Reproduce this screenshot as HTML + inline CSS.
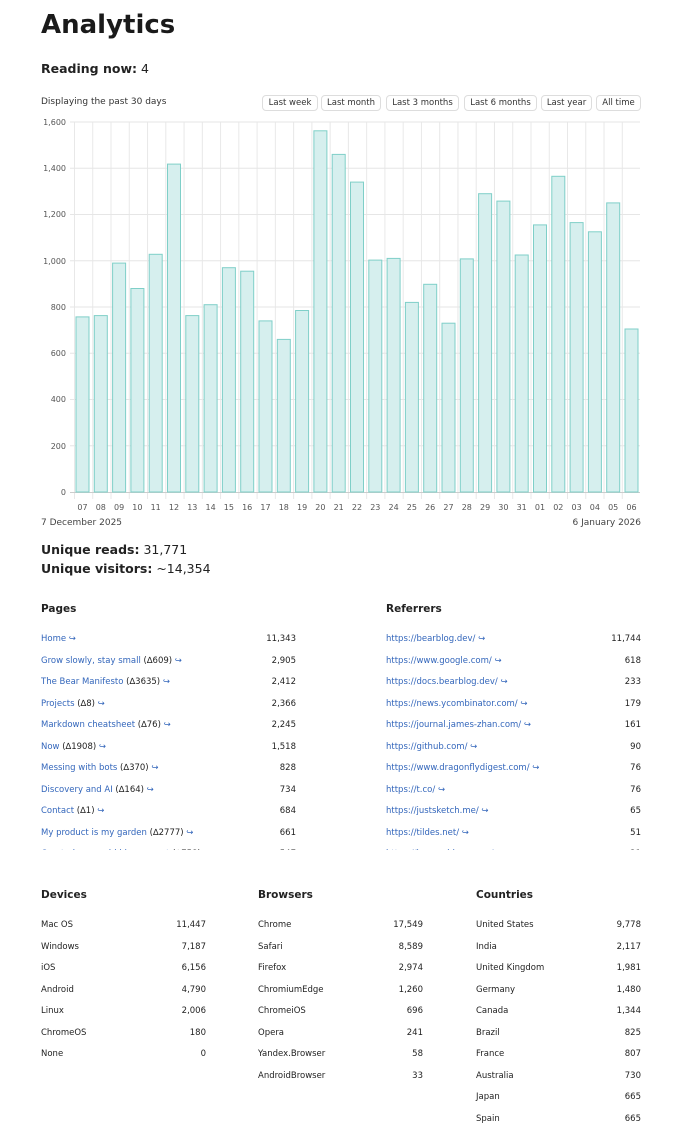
<!DOCTYPE html>
<html><head><meta charset="utf-8"><style>
*{margin:0;padding:0;box-sizing:border-box}
body{width:688px;height:1130px;background:#fff;position:relative;font-family:"DejaVu Sans","Liberation Sans",sans-serif;color:#222;overflow:hidden}
.a{position:absolute;white-space:nowrap}
h1{position:absolute;left:41px;top:10px;font-size:26px;font-weight:bold;color:#1a1a1a}
.s{font-size:12.5px}
.b{font-size:8.5px;color:#333;border:1px solid #ddd;border-radius:4px;height:16px;line-height:14px;text-align:center;top:95px}
.h{font-size:10.5px;font-weight:bold}
.r{font-size:8.5px;height:21.5px;line-height:21.5px}
.l{color:#3366bb}
.n{text-align:right}
</style></head><body>
<h1>Analytics</h1>
<div class="a s" style="left:41px;top:61px"><b>Reading now:</b> 4</div>
<div class="a" style="left:41px;top:97px;font-size:9px;color:#333">Displaying the past 30 days</div>
<div class="a b" style="left:262px;width:56px">Last week</div>
<div class="a b" style="left:321px;width:60px">Last month</div>
<div class="a b" style="left:386px;width:73px">Last 3 months</div>
<div class="a b" style="left:464px;width:73px">Last 6 months</div>
<div class="a b" style="left:541px;width:51px">Last year</div>
<div class="a b" style="left:596px;width:45px">All time</div>
<svg class="a" style="left:0;top:0" width="688" height="530" font-family="DejaVu Sans,sans-serif">
<defs><pattern id="p" x="74" y="0" width="18.26" height="10" patternUnits="userSpaceOnUse"><line x1="0.5" y1="0" x2="0.5" y2="10" stroke="#e8e8e8" stroke-width="1"/></pattern></defs>
<rect x="74" y="122" width="566" height="377" fill="url(#p)"/>
<g stroke="#e6e6e6" stroke-width="1">
<line x1="70" x2="640" y1="122" y2="122"/><line x1="70" x2="640" y1="168.25" y2="168.25"/><line x1="70" x2="640" y1="214.5" y2="214.5"/><line x1="70" x2="640" y1="260.75" y2="260.75"/><line x1="70" x2="640" y1="307" y2="307"/><line x1="70" x2="640" y1="353.25" y2="353.25"/><line x1="70" x2="640" y1="399.5" y2="399.5"/><line x1="70" x2="640" y1="445.75" y2="445.75"/>
</g>
<line x1="70" x2="640" y1="492.5" y2="492.5" stroke="#ccc"/>
<g font-size="8" fill="#555" text-anchor="end">
<text x="66" y="125">1,600</text><text x="66" y="171">1,400</text><text x="66" y="217">1,200</text><text x="66" y="264">1,000</text><text x="66" y="310">800</text><text x="66" y="356">600</text><text x="66" y="402">400</text><text x="66" y="449">200</text><text x="66" y="495">0</text>
</g>
<g fill="#d6efee" stroke="#7fcfc8" stroke-width="1">
<rect x="76" y="316.9" width="13" height="175.1"/><rect x="94.3" y="315.6" width="13" height="176.4"/><rect x="112.6" y="263.1" width="13" height="228.9"/><rect x="130.9" y="288.5" width="13" height="203.5"/><rect x="149.2" y="254.3" width="13" height="237.7"/><rect x="167.5" y="164.1" width="13" height="327.9"/><rect x="185.8" y="315.6" width="13" height="176.4"/><rect x="204.1" y="304.7" width="13" height="187.3"/><rect x="222.4" y="267.7" width="13" height="224.3"/><rect x="240.7" y="271.2" width="13" height="220.8"/><rect x="259" y="320.9" width="13" height="171.1"/><rect x="277.3" y="339.4" width="13" height="152.6"/><rect x="295.6" y="310.5" width="13" height="181.5"/><rect x="313.9" y="130.8" width="13" height="361.2"/><rect x="332.2" y="154.4" width="13" height="337.6"/><rect x="350.5" y="182.1" width="13" height="309.9"/><rect x="368.8" y="260.1" width="13" height="231.9"/><rect x="387.1" y="258.4" width="13" height="233.6"/><rect x="405.4" y="302.4" width="13" height="189.6"/><rect x="423.7" y="284.3" width="13" height="207.7"/><rect x="442" y="323.2" width="13" height="168.8"/><rect x="460.3" y="258.9" width="13" height="233.1"/><rect x="478.6" y="193.7" width="13" height="298.3"/><rect x="496.9" y="201.1" width="13" height="290.9"/><rect x="515.2" y="255" width="13" height="237"/><rect x="533.5" y="224.9" width="13" height="267.1"/><rect x="551.8" y="176.3" width="13" height="315.7"/><rect x="570.1" y="222.6" width="13" height="269.4"/><rect x="588.4" y="231.8" width="13" height="260.2"/><rect x="606.7" y="202.9" width="13" height="289.1"/><rect x="625" y="329" width="13" height="163"/>
</g>
<g font-size="8" fill="#555" text-anchor="middle">
<text x="82.5" y="510">07</text><text x="100.8" y="510">08</text><text x="119.1" y="510">09</text><text x="137.4" y="510">10</text><text x="155.7" y="510">11</text><text x="174" y="510">12</text><text x="192.3" y="510">13</text><text x="210.6" y="510">14</text><text x="228.9" y="510">15</text><text x="247.2" y="510">16</text><text x="265.5" y="510">17</text><text x="283.8" y="510">18</text><text x="302.1" y="510">19</text><text x="320.4" y="510">20</text><text x="338.7" y="510">21</text><text x="357" y="510">22</text><text x="375.3" y="510">23</text><text x="393.6" y="510">24</text><text x="411.9" y="510">25</text><text x="430.2" y="510">26</text><text x="448.5" y="510">27</text><text x="466.8" y="510">28</text><text x="485.1" y="510">29</text><text x="503.4" y="510">30</text><text x="521.7" y="510">31</text><text x="540" y="510">01</text><text x="558.3" y="510">02</text><text x="576.6" y="510">03</text><text x="594.9" y="510">04</text><text x="613.2" y="510">05</text><text x="631.5" y="510">06</text>
</g>
<g font-size="9" fill="#444"><text x="41" y="525">7 December 2025</text><text x="641" y="525" text-anchor="end">6 January 2026</text></g>
</svg>
<div class="a s" style="left:41px;top:542px"><b>Unique reads:</b> 31,771</div>
<div class="a s" style="left:41px;top:561px"><b>Unique visitors:</b> ~14,354</div>

<div class="a h" style="left:41px;top:603px">Pages</div>
<div class="a h" style="left:386px;top:603px">Referrers</div>
<div class="a" style="left:41px;top:629px;width:600px;height:221px;overflow:hidden">
<div class="a" style="left:0;top:0;width:255px">
<div class="r"><span class="l">Home ↪</span><span style="float:right">11,343</span></div>
<div class="r"><span class="l">Grow slowly, stay small</span> (∆609) <span class="l">↪</span><span style="float:right">2,905</span></div>
<div class="r"><span class="l">The Bear Manifesto</span> (∆3635) <span class="l">↪</span><span style="float:right">2,412</span></div>
<div class="r"><span class="l">Projects</span> (∆8) <span class="l">↪</span><span style="float:right">2,366</span></div>
<div class="r"><span class="l">Markdown cheatsheet</span> (∆76) <span class="l">↪</span><span style="float:right">2,245</span></div>
<div class="r"><span class="l">Now</span> (∆1908) <span class="l">↪</span><span style="float:right">1,518</span></div>
<div class="r"><span class="l">Messing with bots</span> (∆370) <span class="l">↪</span><span style="float:right">828</span></div>
<div class="r"><span class="l">Discovery and AI</span> (∆164) <span class="l">↪</span><span style="float:right">734</span></div>
<div class="r"><span class="l">Contact</span> (∆1) <span class="l">↪</span><span style="float:right">684</span></div>
<div class="r"><span class="l">My product is my garden</span> (∆2777) <span class="l">↪</span><span style="float:right">661</span></div>
<div class="r"><span class="l">Curated same old ideas resort</span> (∆758) <span class="l">↪</span><span style="float:right">547</span></div>
</div>
<div class="a" style="left:345px;top:0;width:255px">
<div class="r"><span class="l">https://bearblog.dev/ ↪</span><span style="float:right">11,744</span></div>
<div class="r"><span class="l">https://www.google.com/ ↪</span><span style="float:right">618</span></div>
<div class="r"><span class="l">https://docs.bearblog.dev/ ↪</span><span style="float:right">233</span></div>
<div class="r"><span class="l">https://news.ycombinator.com/ ↪</span><span style="float:right">179</span></div>
<div class="r"><span class="l">https://journal.james-zhan.com/ ↪</span><span style="float:right">161</span></div>
<div class="r"><span class="l">https://github.com/ ↪</span><span style="float:right">90</span></div>
<div class="r"><span class="l">https://www.dragonflydigest.com/ ↪</span><span style="float:right">76</span></div>
<div class="r"><span class="l">https://t.co/ ↪</span><span style="float:right">76</span></div>
<div class="r"><span class="l">https://justsketch.me/ ↪</span><span style="float:right">65</span></div>
<div class="r"><span class="l">https://tildes.net/ ↪</span><span style="float:right">51</span></div>
<div class="r"><span class="l">https://lemmy.ideas.com/ ↪</span><span style="float:right">31</span></div>
</div>
</div>

<div class="a h" style="left:41px;top:889px">Devices</div>
<div class="a h" style="left:258px;top:889px">Browsers</div>
<div class="a h" style="left:476px;top:889px">Countries</div>
<div class="a" style="left:41px;top:915px;width:165px">
<div class="r">Mac OS<span style="float:right">11,447</span></div>
<div class="r">Windows<span style="float:right">7,187</span></div>
<div class="r">iOS<span style="float:right">6,156</span></div>
<div class="r">Android<span style="float:right">4,790</span></div>
<div class="r">Linux<span style="float:right">2,006</span></div>
<div class="r">ChromeOS<span style="float:right">180</span></div>
<div class="r">None<span style="float:right">0</span></div>
</div>
<div class="a" style="left:258px;top:915px;width:165px">
<div class="r">Chrome<span style="float:right">17,549</span></div>
<div class="r">Safari<span style="float:right">8,589</span></div>
<div class="r">Firefox<span style="float:right">2,974</span></div>
<div class="r">ChromiumEdge<span style="float:right">1,260</span></div>
<div class="r">ChromeiOS<span style="float:right">696</span></div>
<div class="r">Opera<span style="float:right">241</span></div>
<div class="r">Yandex.Browser<span style="float:right">58</span></div>
<div class="r">AndroidBrowser<span style="float:right">33</span></div>
</div>
<div class="a" style="left:476px;top:915px;width:165px">
<div class="r">United States<span style="float:right">9,778</span></div>
<div class="r">India<span style="float:right">2,117</span></div>
<div class="r">United Kingdom<span style="float:right">1,981</span></div>
<div class="r">Germany<span style="float:right">1,480</span></div>
<div class="r">Canada<span style="float:right">1,344</span></div>
<div class="r">Brazil<span style="float:right">825</span></div>
<div class="r">France<span style="float:right">807</span></div>
<div class="r">Australia<span style="float:right">730</span></div>
<div class="r">Japan<span style="float:right">665</span></div>
<div class="r">Spain<span style="float:right">665</span></div>
</div>
</body></html>
